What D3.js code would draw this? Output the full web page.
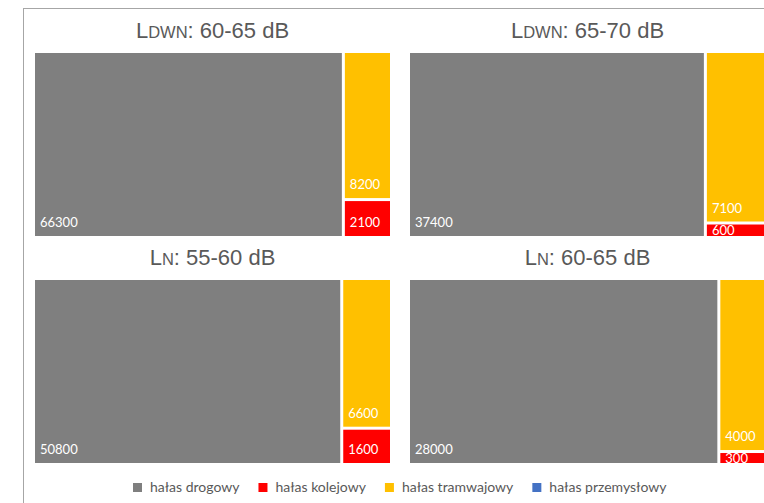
<!DOCTYPE html>
<html><head><meta charset="utf-8">
<script src="https://cdn.jsdelivr.net/npm/d3@7"></script>
<style>body{margin:0;background:#fff}svg{display:block}</style>
</head><body>
<script>
const categories = ["hałas drogowy","hałas kolejowy","hałas tramwajowy","hałas przemysłowy"];
const colors = ["#7f7f7f","#ff0000","#ffc000","#4472c4"];
const panelTitles = [["L","DWN",": 60-65 dB"],["L","DWN",": 65-70 dB"],["L","N",": 55-60 dB"],["L","N",": 60-65 dB"]];
const roadValues = [66300,37400,50800,28000];
const railValues = [2100,600,1600,300];
const tramValues = [8200,7100,6600,4000];
const industryValues = [0,0,0,0];

const W=764,H=503;
const svg=d3.select("body").append("svg").attr("width",W).attr("height",H);
svg.append("rect").attr("x",23.5).attr("y",8.5).attr("width",800).attr("height",600)
  .attr("fill","none").attr("stroke","#a6a6a6").attr("stroke-width",1);

const panels=[{x:35,y:53},{x:410,y:53},{x:35,y:280},{x:410,y:280}];
const pw=355, ph=183;
const valueSets=[roadValues,railValues,tramValues,industryValues];

panels.forEach((p,i)=>{
  const g=svg.append("g").attr("transform",`translate(${p.x},${p.y})`);
  const t=g.append("text").attr("x",pw/2).attr("y",-15).attr("text-anchor","middle")
    .attr("fill","#595959").style("font-family","Liberation Sans, Arial, sans-serif").style("font-size","22px");
  t.append("tspan").text(panelTitles[i][0]);
  t.append("tspan").style("font-size","16.5px").text(panelTitles[i][1]);
  t.append("tspan").text(panelTitles[i][2]);
  const data={children:categories.map((c,k)=>({name:c,color:colors[k],value:valueSets[k][i]})).filter(d=>d.value>0)};
  const root=d3.hierarchy(data).sum(d=>d.value||0).sort((a,b)=>b.value-a.value);
  d3.treemap().size([pw,ph]).paddingInner(3).tile(d3.treemapSquarify.ratio(1))(root);
  const clipId="clip"+i;
  root.leaves().forEach((d,k)=>{
    const w=d.x1-d.x0, h=d.y1-d.y0;
    const cg=g.append("g");
    cg.append("clipPath").attr("id",clipId+"_"+k).append("rect").attr("x",d.x0).attr("y",d.y0).attr("width",w).attr("height",h);
    cg.append("rect").attr("x",d.x0).attr("y",d.y0).attr("width",w).attr("height",h).attr("fill",d.data.color);
    const small=h<18;
    cg.append("text").attr("x",d.x0+5).attr("y",small?d.y0+10:d.y0+h-9).attr("fill","#fff")
      .attr("clip-path",`url(#${clipId}_${k})`)
      .style("font-family","Lato, Carlito, sans-serif").style("font-size","13px").text(d.data.value);
  });
});

// legend
const lg=svg.append("g").attr("transform","translate(0,492)");
let x=133;
categories.forEach((c,k)=>{
  lg.append("rect").attr("x",x).attr("y",-9).attr("width",9).attr("height",9).attr("fill",colors[k]);
  const tx=lg.append("text").attr("x",x+17).attr("y",0).attr("fill","#595959")
    .style("font-family","Lato, Carlito, sans-serif").style("font-size","14px").text(c);
  x+=17+tx.node().getComputedTextLength()+19;
});
</script>
</body></html>
